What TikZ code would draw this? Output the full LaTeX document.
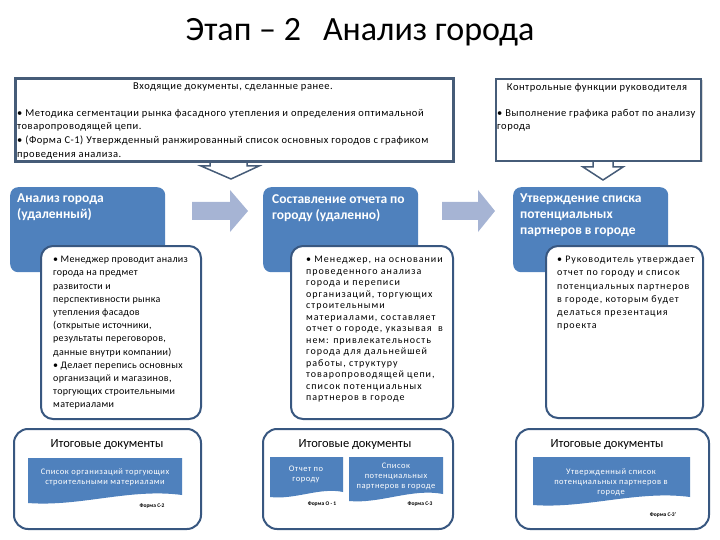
\documentclass[tikz,border=0pt]{standalone}
\usepackage{fontspec}
\setmainfont{Carlito}
\usetikzlibrary{shadows}
\definecolor{hdrblue}{RGB}{79,129,189}
\definecolor{edgeblue}{RGB}{56,87,128}
\definecolor{topedge}{RGB}{70,92,120}
\definecolor{arrowblue}{RGB}{166,180,212}
\begin{document}
\begin{tikzpicture}[x=1pt,y=-1pt]
	\tikzstyle{every node}=[inner sep=0pt, align=left]
	\tikzstyle{topbox}=[draw=topedge, line width=2pt, fill=white, drop shadow={shadow xshift=1.5pt, shadow yshift=-1.5pt, opacity=0.3}, anchor=north west]
	\tikzstyle{toptext}=[font=\fontsize{10.5}{13.6}\selectfont\addfontfeature{LetterSpace=5}]
	\tikzstyle{hdrbox}=[fill=hdrblue, rounded corners=8pt, anchor=north west, minimum width=155pt, minimum height=85pt]
	\tikzstyle{bodybox}=[draw=edgeblue, line width=2pt, fill=white, rounded corners=12pt, anchor=north west]
	\tikzstyle{hdrtext}=[anchor=north west, text=white, font=\fontsize{13.5}{16}\selectfont\bfseries]
	\tikzstyle{bodytext}=[anchor=north west, font=\fontsize{10}{13.2}\selectfont\addfontfeature{LetterSpace=3}]
	\tikzstyle{restitle}=[font=\fontsize{12.5}{14}\selectfont]
	\tikzstyle{doctext}=[text=white, align=center, font=\fontsize{8.5}{10}\selectfont\addfontfeature{LetterSpace=6}]
	\tikzstyle{formtext}=[font=\fontsize{5.5}{6}\selectfont\bfseries]
	\tikzstyle{blockarrow}=[fill=arrowblue]
	\tikzstyle{downarrow}=[draw=topedge, line width=1.5pt, fill=white]
	\useasboundingbox (0,0) rectangle (720,540);
	\node[font=\fontsize{34}{40}\selectfont] (title) at (360,32) {Этап – 2\hspace{22pt}Анализ города};
	\draw[downarrow] (210,150) -- (247,150) -- (247,166) -- (259,166) -- (231,179) -- (201,166) -- (210,166) -- cycle;
	\draw[downarrow] (593,150) -- (613,150) -- (613,167) -- (623,167) -- (603,180) -- (583,167) -- (593,167) -- cycle;
	\node[topbox, minimum width=437pt, minimum height=82pt] (indocs) at (15,78) {};
	\node[toptext, anchor=north] (indocshead) at (233,83) {Входящие документы, сделанные ранее.};
	\node[toptext, anchor=north west] (indocslist) at (17,109) {• Методика сегментации рынка фасадного утепления и определения оптимальной\\товаропроводящей цепи.\\• (Форма С-1) Утвержденный ранжированный список основных городов с графиком\\проведения анализа.};
	\draw[topedge, line width=2pt] (indocs.north west) rectangle (indocs.south east);
	\node[topbox, minimum width=205pt, minimum height=82pt] (ctrl) at (495,78) {};
	\node[toptext, anchor=north] (ctrlhead) at (597,83) {Контрольные функции руководителя};
	\node[toptext, anchor=north west] (ctrllist) at (497,109) {• Выполнение графика работ по анализу\\города};
	\fill[blockarrow] (192,202) -- (230,202) -- (230,190) -- (248,211) -- (230,232) -- (230,220) -- (192,220) -- cycle;
	\fill[blockarrow] (442,202) -- (478,202) -- (478,190) -- (495,211) -- (478,232) -- (478,220) -- (442,220) -- cycle;
	\node[hdrbox] (anlz) at (10,187) {};
	\node[hdrbox] (rprt) at (263,187) {};
	\node[hdrbox] (aprv) at (513,187) {};
	\node[hdrtext] (anlztext) at (17,194) {Анализ города\\(удаленный)};
	\node[hdrtext] (rprttext) at (272,194) {Составление отчета по\\городу (удаленно)};
	\node[hdrtext] (aprvtext) at (520,194) {Утверждение списка\\потенциальных\\партнеров в городе};
	\node[bodybox, minimum width=160pt, minimum height=173pt] (anlzbody) at (40,245) {};
	\node[bodybox, minimum width=162pt, minimum height=173pt] (rprtbody) at (290,245) {};
	\node[bodybox, minimum width=157pt, minimum height=172pt] (aprvbody) at (545,245) {};
	\node[bodytext] (anlzlist) at (53,256) {• Менеджер проводит анализ\\города на предмет\\развитости и\\перспективности рынка\\утепления фасадов\\(открытые источники,\\результаты переговоров,\\данные внутри компании)\\• Делает перепись основных\\организаций и магазинов,\\торгующих строительными\\материалами};
	\node[bodytext, font=\fontsize{10}{11.5}\selectfont\addfontfeature{LetterSpace=10}] (rprtlist) at (306,256) {• Менеджер, на основании\\проведенного анализа\\города и переписи\\организаций, торгующих\\строительными\\материалами, составляет\\отчет о городе, указывая \ в\\нем: привлекательность\\города для дальнейшей\\работы, структуру\\товаропроводящей цепи,\\список потенциальных\\партнеров в городе};
	\node[bodytext, font=\fontsize{10}{13.2}\selectfont\addfontfeature{LetterSpace=9}] (aprvlist) at (557,256) {• Руководитель утверждает\\отчет по городу и список\\потенциальных партнеров\\в городе, которым будет\\делаться презентация\\проекта};
	\node[bodybox, rounded corners=14pt, minimum width=187pt, minimum height=100pt] (anlzres) at (13,428) {};
	\node[bodybox, rounded corners=14pt, minimum width=190pt, minimum height=100pt] (rprtres) at (262,428) {};
	\node[bodybox, rounded corners=14pt, minimum width=193pt, minimum height=100pt] (aprvres) at (515,428) {};
	\node[restitle] (anlzrestitle) at (107,445) {Итоговые документы};
	\node[restitle] (rprtrestitle) at (355,445) {Итоговые документы};
	\node[restitle] (aprvrestitle) at (607,445) {Итоговые документы};
	\fill[hdrblue] (28,458) -- (182,458) -- (182,495) .. controls (130,488) and (80,507) .. (28,503) -- cycle;
	\fill[hdrblue] (270,457) -- (343,457) -- (343,492) .. controls (320,487) and (295,500) .. (270,497) -- cycle;
	\fill[hdrblue] (349,457) -- (443,457) -- (443,494) .. controls (412,488) and (380,504) .. (349,501) -- cycle;
	\fill[hdrblue] (533,457) -- (690,457) -- (690,497) .. controls (638,490) and (585,509) .. (533,505) -- cycle;
	\node[doctext] (anlzdoc) at (105,477) {Список организаций торгующих\\строительными материалами};
	\node[doctext] (rprtdoc) at (306,474) {Отчет по\\городу};
	\node[doctext] (listdoc) at (396,476) {Список\\потенциальных\\партнеров в городе};
	\node[doctext] (aprvdoc) at (611,482) {Утвержденный список\\потенциальных партнеров в\\городе};
	\node[formtext] (anlzform) at (152,506) {Форма С-2};
	\node[formtext] (rprtform) at (322,504) {Форма О - 1};
	\node[formtext] (listform) at (420,504) {Форма С-3};
	\node[formtext] (aprvform) at (663,515) {Форма С-3'};
\end{tikzpicture}
\end{document}
